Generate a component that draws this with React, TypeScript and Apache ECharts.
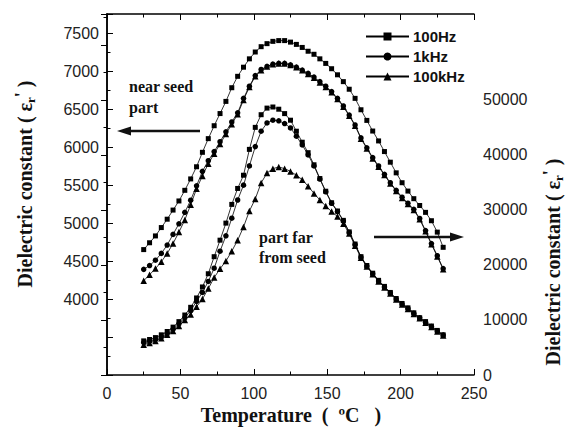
import React, { useEffect, useRef } from 'react';
import * as echarts from 'echarts';

const temperature = [25, 29, 33, 37, 41, 45, 49, 53, 57, 61, 65, 69, 73, 77, 81, 85, 89, 93, 97, 101, 105, 109, 113, 117, 121, 125, 129, 133, 137, 141, 145, 149, 153, 157, 161, 165, 169, 173, 177, 181, 185, 189, 193, 197, 201, 205, 209, 213, 217, 221, 225, 229];

// near seed part (left axis)
const near100Hz = [4650, 4740, 4830, 4940, 5050, 5170, 5290, 5430, 5580, 5740, 5930, 6110, 6280, 6440, 6600, 6780, 6930, 7050, 7160, 7250, 7320, 7360, 7390, 7400, 7400, 7380, 7350, 7310, 7260, 7220, 7160, 7100, 7030, 6950, 6860, 6760, 6640, 6490, 6350, 6210, 6080, 5940, 5800, 5660, 5530, 5420, 5320, 5230, 5140, 5030, 4880, 4680];
const near1kHz = [4390, 4440, 4510, 4600, 4710, 4850, 4990, 5140, 5300, 5490, 5680, 5820, 5940, 6070, 6200, 6330, 6450, 6640, 6800, 6940, 7020, 7060, 7090, 7100, 7100, 7080, 7050, 7010, 6970, 6920, 6860, 6800, 6730, 6640, 6540, 6420, 6290, 6120, 5990, 5860, 5750, 5640, 5530, 5430, 5340, 5260, 5180, 5060, 4900, 4730, 4570, 4400];
const near100kHz = [4240, 4320, 4400, 4490, 4600, 4730, 4880, 5040, 5240, 5450, 5620, 5780, 5910, 6040, 6170, 6300, 6430, 6620, 6790, 6930, 7010, 7060, 7090, 7100, 7100, 7080, 7050, 7010, 6960, 6910, 6850, 6790, 6720, 6630, 6530, 6410, 6280, 6110, 5980, 5850, 5740, 5630, 5520, 5420, 5330, 5250, 5170, 5050, 4890, 4720, 4560, 4390];

// part far from seed (right axis)
const far100Hz = [6200, 6450, 6800, 7300, 7900, 8700, 9700, 10900, 12300, 14000, 16000, 18400, 21500, 24500, 27600, 31000, 33900, 36300, 41000, 45000, 47300, 48500, 48700, 48300, 47500, 46300, 44300, 42300, 40400, 38200, 35700, 33400, 31300, 29800, 28100, 26000, 23800, 21500, 19900, 18500, 17200, 16100, 15000, 13900, 13000, 12200, 11300, 10400, 9700, 8900, 8100, 7300];
const far1kHz = [5900, 6150, 6450, 6900, 7500, 8300, 9300, 10400, 11700, 13400, 15000, 17000, 19400, 22500, 25300, 28500, 31800, 34500, 38000, 41500, 44300, 45800, 46300, 46200, 45700, 44900, 43400, 41800, 40000, 38000, 35600, 33300, 31200, 29700, 28000, 25900, 23700, 21400, 19800, 18400, 17100, 16000, 14900, 13800, 12900, 12100, 11200, 10400, 9600, 8800, 8000, 7250];
const far100kHz = [5500, 5800, 6200, 6700, 7300, 8000, 8900, 10000, 11000, 12400, 13800, 15700, 17700, 19300, 20700, 22500, 24500, 26900, 29800, 32000, 34900, 36700, 37500, 37800, 37500, 37000, 36300, 35500, 34300, 33000, 31800, 30700, 29700, 28800, 27500, 25700, 23500, 21300, 19700, 18300, 17000, 15900, 14800, 13700, 12800, 12000, 11100, 10300, 9500, 8700, 7900, 7200];

const seriesNames = ['100Hz', '1kHz', '100kHz'];
const symbols = ['rect', 'circle', 'triangle'];
const symbolSizes = [5, 5.5, 6.5];

const leftLabels = [4000, 4500, 5000, 5500, 6000, 6500, 7000, 7500];
const rightLabels = [0, 10000, 20000, 30000, 40000, 50000];

const SANS = '"Liberation Sans", Arial, sans-serif';
const SERIF = '"Liberation Serif", "Times New Roman", serif';

function pairs(ys: number[]) {
  return temperature.map((t, i) => [t, ys[i]]);
}

const titleRich = {
  sub: { font: `bold 13px ${SERIF}`, fill: '#111', verticalAlign: 'bottom', padding: [10, 0, 0, 0] },
  sup: { font: `bold 18px ${SERIF}`, fill: '#111', verticalAlign: 'top', padding: [0, 0, 6, 0] },
};

export default function App() {
  const ref = useRef<HTMLDivElement>(null);
  useEffect(() => {
    if (!ref.current) return;
    const chart = echarts.init(ref.current, undefined, { renderer: 'svg' });
    const axisCommon = {
      axisLine: { show: true, lineStyle: { color: '#000', width: 1.5 } },
      axisTick: { show: true, inside: true, length: 6, lineStyle: { color: '#000', width: 1 } },
      minorTick: { show: true, splitNumber: 2, length: 3.5, lineStyle: { color: '#000', width: 1 } },
      splitLine: { show: false },
      minorSplitLine: { show: false },
    };
    const nearSets = [near100Hz, near1kHz, near100kHz];
    const farSets = [far100Hz, far1kHz, far100kHz];
    const series: any[] = [];
    nearSets.forEach((d, i) => {
      series.push({
        name: seriesNames[i], type: 'line', xAxisIndex: 0, yAxisIndex: 0,
        data: pairs(d), symbol: symbols[i], symbolSize: symbolSizes[i], showSymbol: true,
        lineStyle: { color: '#000', width: 0.8 }, itemStyle: { color: '#000' }, z: 3,
      });
    });
    farSets.forEach((d, i) => {
      series.push({
        name: seriesNames[i], type: 'line', xAxisIndex: 0, yAxisIndex: 1,
        data: pairs(d), symbol: symbols[i], symbolSize: symbolSizes[i], showSymbol: true,
        lineStyle: { color: '#000', width: 0.8 }, itemStyle: { color: '#000' }, z: 3,
      });
    });
    chart.setOption({
      animation: false,
      backgroundColor: '#fff',
      grid: { left: 107, right: 91, top: 14, bottom: 65, containLabel: false },
      legend: {
        orient: 'vertical', left: 360, top: 24, itemWidth: 43, itemHeight: 10, itemGap: 5,
        data: seriesNames,
        textStyle: { fontFamily: SANS, fontWeight: 'bold', fontSize: 15, color: '#111', padding: [0, 0, 0, -1] },
        selectedMode: false,
      },
      xAxis: [
        {
          type: 'value', position: 'bottom', min: 0, max: 250, interval: 50, ...axisCommon,
          axisLabel: { fontFamily: SANS, fontSize: 16, color: '#222', margin: 10 },
        },
        {
          type: 'value', position: 'top', min: 0, max: 250, interval: 50, ...axisCommon,
          axisLabel: { show: false },
        },
      ],
      yAxis: [
        {
          type: 'value', position: 'left', min: 3000, max: 7750, interval: 500, ...axisCommon,
          axisLabel: {
            fontFamily: SANS, fontSize: 16, color: '#222', margin: 8,
            formatter: (v: number) => (leftLabels.indexOf(v) >= 0 ? String(v) : ''),
          },
        },
        {
          type: 'value', position: 'right', min: 0, max: 65600, interval: 10000, ...axisCommon,
          axisLabel: {
            fontFamily: SANS, fontSize: 16, color: '#222', margin: 9,
            formatter: (v: number) => (rightLabels.indexOf(v) >= 0 ? String(v) : ''),
          },
        },
      ],
      series,
      graphic: [
        {
          type: 'text', x: 25, y: 184, rotation: Math.PI / 2,
          style: {
            text: 'Dielectric constant ( ε{sub|r}{sup|\'} )',
            font: `bold 20px ${SERIF}`, fill: '#111', align: 'center', verticalAlign: 'middle',
            rich: titleRich,
          },
        },
        {
          type: 'text', x: 553, y: 262, rotation: Math.PI / 2,
          style: {
            text: 'Dielectric constant ( ε{sub|r}{sup|\'} )',
            font: `bold 20px ${SERIF}`, fill: '#111', align: 'center', verticalAlign: 'middle',
            rich: titleRich,
          },
        },
        {
          type: 'text', x: 291, y: 415,
          style: { text: 'Temperature  (  ºC   )', font: `bold 20px ${SERIF}`, fill: '#111', align: 'center', verticalAlign: 'middle' },
        },
        {
          type: 'text', x: 129, y: 86,
          style: { text: 'near seed', font: `bold 16px ${SERIF}`, fill: '#111', align: 'left', verticalAlign: 'middle' },
        },
        {
          type: 'text', x: 129, y: 107,
          style: { text: 'part', font: `bold 16px ${SERIF}`, fill: '#111', align: 'left', verticalAlign: 'middle' },
        },
        {
          type: 'text', x: 259, y: 237,
          style: { text: 'part far', font: `bold 16px ${SERIF}`, fill: '#111', align: 'left', verticalAlign: 'middle' },
        },
        {
          type: 'text', x: 259, y: 257,
          style: { text: 'from seed', font: `bold 16px ${SERIF}`, fill: '#111', align: 'left', verticalAlign: 'middle' },
        },
        {
          type: 'line', shape: { x1: 200, y1: 131, x2: 128, y2: 131 },
          style: { stroke: '#111', lineWidth: 2.5 },
        },
        {
          type: 'polygon', shape: { points: [[117, 131], [131, 126.5], [131, 135.5]] },
          style: { fill: '#111' },
        },
        {
          type: 'line', shape: { x1: 374, y1: 237, x2: 452, y2: 237 },
          style: { stroke: '#111', lineWidth: 2.5 },
        },
        {
          type: 'polygon', shape: { points: [[464, 237], [450, 232.5], [450, 241.5]] },
          style: { fill: '#111' },
        },
      ],
    });
    return () => chart.dispose();
  }, []);
  return (
    <div
      ref={ref}
      style={{ position: 'absolute', left: 0, top: 0, width: 565, height: 440, background: '#fff' }}
    />
  );
}
